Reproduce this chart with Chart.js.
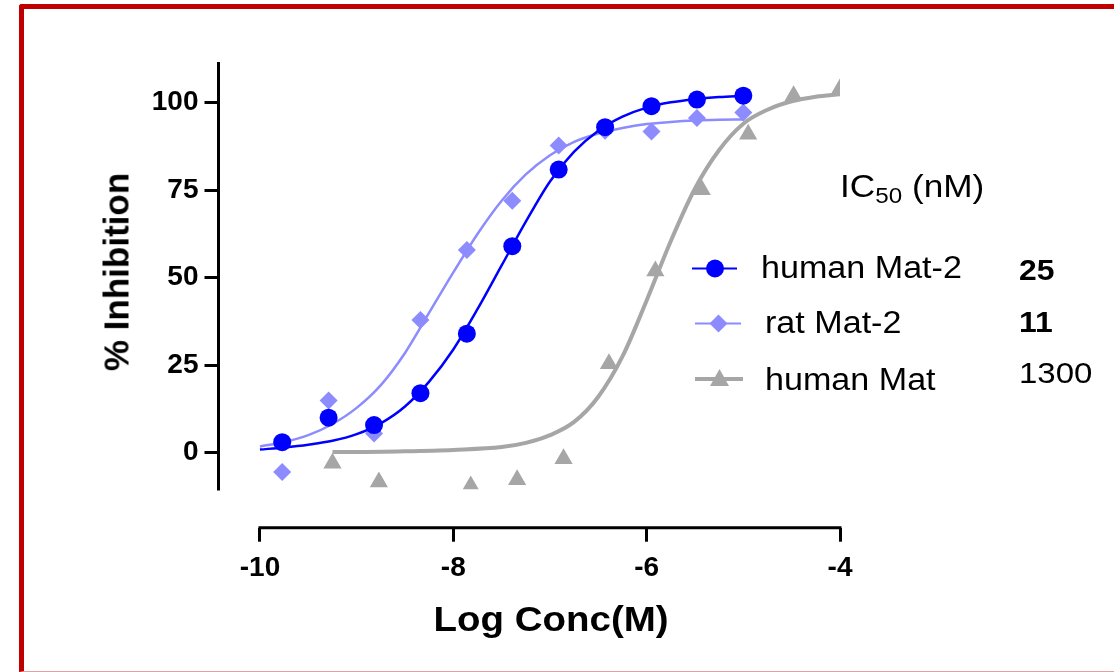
<!DOCTYPE html>
<html>
<head>
<meta charset="utf-8">
<script src="https://cdn.jsdelivr.net/npm/chart.js@4.4.1/dist/chart.umd.min.js"></script>
<style>
	html, body { margin: 0; padding: 0; background: #fff; }
	#wrap { position: relative; width: 1114px; height: 672px; overflow: hidden; background: #fff; }
	#mycanvas { position: absolute; left: 0; top: 0; }
	.frame { position: absolute; left: 19px; top: 4px; width: 1200px; height: 662px;
		border-left: 5px solid #c00000; border-top: 5px solid #c00000; border-bottom: 1px solid #e2a2a2;
		border-top-left-radius: 3px; pointer-events: none; }
	.txt { position: absolute; font-family: "Liberation Sans", Arial, sans-serif; color: #000;
		line-height: 1; white-space: nowrap; }
	.lg { font-size: 31px; transform: scaleX(1.1); transform-origin: left center; }
	.ic { transform: scaleX(1.1); transform-origin: left center; }
	.ic sub { font-size: 22px; vertical-align: -6px; line-height: 0; }
	#ytitle { left: 116px; top: 272px; font-size: 35px; font-weight: bold;
		transform: translate(-50%, -50%) rotate(-90deg); }
	#xtitle { left: 551px; top: 618px; font-size: 35px; font-weight: bold;
		transform: translate(-50%, -50%) scaleX(1.1); }
	svg { position: absolute; left: 0; top: 0; }
</style>
</head>
<body>
<div id="wrap">
	<canvas id="mycanvas" width="1114" height="672"></canvas>

	<div class="txt" id="ytitle">% Inhibition</div>
	<div class="txt" id="xtitle">Log Conc(M)</div>

	<svg width="1114" height="672">
		<line x1="692" y1="268.5" x2="737" y2="268.5" stroke="#0000ff" stroke-width="2"/>
		<circle cx="715" cy="268.5" r="9" fill="#0000ff"/>
		<line x1="695" y1="323.5" x2="741" y2="323.5" stroke="#8c8cff" stroke-width="2"/>
		<polygon points="718.5,314.5 727.5,323.5 718.5,332.5 709.5,323.5" fill="#8c8cff"/>
		<line x1="695" y1="379" x2="743" y2="379" stroke="#a6a6a6" stroke-width="4"/>
		<polygon points="719.5,369 729,386 710,386" fill="#a6a6a6"/>
	</svg>

	<div class="txt ic" style="left:840px; top:170px; font-size:32px;">IC<sub>50</sub> (nM)</div>
	<div class="txt lg" style="left:761px; top:252px;">human Mat-2</div>
	<div class="txt lg" style="left:765px; top:307px;">rat Mat-2</div>
	<div class="txt lg" style="left:765px; top:364px;">human Mat</div>
	<div class="txt ic" style="left:1019px; top:256px; font-size:29px; font-weight:bold;">25</div>
	<div class="txt ic" style="left:1019px; top:308px; font-size:29px; font-weight:bold;">11</div>
	<div class="txt ic" style="left:1019px; top:358px; font-size:30px;">1300</div>

	<div class="frame"></div>
</div>

<script>
// axis ticks
var xTicks = [-10, -8, -6, -4];
var yTicks = [0, 25, 50, 75, 100];
var yAxisBottom = -10.8;

// measured points, log concentration (M)
var concMat2 = [-9.77, -9.29, -8.82, -8.34, -7.86, -7.39, -6.91, -6.43, -5.95, -5.48, -5.00];
var humanMat2 = [3.0, 10.0, 7.9, 17.0, 34.0, 59.0, 80.9, 93.0, 99.0, 100.9, 102.0];
var ratMat2 = [-5.5, 14.9, 5.5, 37.9, 57.9, 72.0, 87.8, 92.0, 91.8, 95.6, 97.2];

var concMat = [-9.25, -8.77, -7.82, -7.34, -6.86, -6.39, -5.91, -5.43, -4.95, -4.48, -4.00];
var humanMat = [-3.0, -8.4, -9.5, -7.7, -1.7, 25.4, 51.9, 75.1, 91.0, 102.0, 104.0];

// fitted curves
var fitConcMat2 = [-10, -9.75, -9.5, -9.25, -9, -8.75, -8.5, -8.25, -8, -7.75, -7.5,
	-7.25, -7, -6.75, -6.5, -6.25, -6, -5.75, -5.5, -5.25, -5];
var fitHumanMat2 = [0.9, 1.5, 2.3, 3.4, 5.3, 8.4, 13.2, 20.3, 29.5, 41.0, 53.5,
	66.0, 77.5, 86.0, 92.0, 96.0, 98.6, 100.1, 101.0, 101.6, 102.0];
var fitRatMat2 = [1.8, 3.0, 5.0, 8.2, 12.8, 19.3, 28.5, 40.0, 51.5, 62.5, 72.0,
	79.5, 85.0, 88.8, 91.2, 92.8, 93.9, 94.5, 94.9, 95.1, 95.2];

var fitConcMat = [-9.25, -9, -8.5, -8, -7.5, -7.25, -7, -6.75, -6.5, -6.25, -6,
	-5.75, -5.5, -5.25, -5, -4.75, -4.5, -4.25, -4];
var fitHumanMat = [0.2, 0.2, 0.4, 0.8, 1.6, 2.8, 5.0, 8.8, 16.0, 27.5, 43.5,
	60.5, 75.5, 86.5, 94.0, 98.0, 100.4, 101.7, 102.4];

var blue = '#0000ff';
var lightBlue = '#8c8cff';
var grey = '#a6a6a6';

function pairs(xs, ys) {
	var out = [];
	for (var i in xs) {
		out.push({x: xs[i], y: ys[i]});
	}
	return out;
}

var plotClip = {left: 30, top: 30, right: 0, bottom: -38.5};

function points(xs, ys, color, style, radius) {
	return {
		data: pairs(xs, ys),
		showLine: false,
		pointStyle: style,
		pointRadius: radius,
		pointBackgroundColor: color,
		pointBorderWidth: 0,
		clip: plotClip
	};
}

function curve(xs, ys, color, width) {
	return {
		data: pairs(xs, ys),
		showLine: true,
		borderColor: color,
		borderWidth: width,
		pointRadius: 0,
		cubicInterpolationMode: 'monotone',
		clip: plotClip
	};
}

// drawing order: first dataset ends up on top
var datasets = [
	points(concMat2, humanMat2, blue, 'circle', 9),
	curve(fitConcMat2, fitHumanMat2, blue, 2.5),
	points(concMat2, ratMat2, lightBlue, 'rectRot', 9),
	curve(fitConcMat2, fitRatMat2, lightBlue, 2.5),
	points(concMat, humanMat, grey, 'triangle', 10.5),
	curve(fitConcMat, fitHumanMat, grey, 4)
];

var axisLines = {
	id: 'axisLines',
	beforeDatasetsDraw: function(chart) {
		var c = chart.ctx;
		var xs = chart.scales.x;
		var ys = chart.scales.y;
		c.save();
		c.strokeStyle = '#000';
		c.lineWidth = 3;
		c.beginPath();
		c.moveTo(xs.left, ys.top);
		c.lineTo(xs.left, ys.getPixelForValue(yAxisBottom));
		c.moveTo(xs.getPixelForValue(xTicks[0]) - 1.5, ys.bottom);
		c.lineTo(xs.getPixelForValue(xTicks[xTicks.length - 1]) + 1.5, ys.bottom);
		c.stroke();
		c.restore();
	}
};

var tickFont = {family: '"Liberation Sans", Arial, sans-serif', weight: 'bold', size: 28};

var ctx = document.getElementById('mycanvas');
var chart = new Chart(ctx, {
	type: 'scatter',
	data: {datasets: datasets},
	options: {
		responsive: false,
		animation: false,
		events: [],
		layout: {padding: {left: 0, top: 62, right: 274, bottom: 0}},
		plugins: {legend: {display: false}, tooltip: {enabled: false}},
		scales: {
			x: {
				type: 'linear',
				min: -10.429,
				max: -4,
				afterFit: function(s) { s.height = 672 - 527.7; },
				afterBuildTicks: function(s) {
					s.ticks = xTicks.map(function(v) { return {value: v}; });
				},
				border: {display: false},
				grid: {drawOnChartArea: false, drawTicks: true, tickLength: 14, lineWidth: 3, color: '#000'},
				ticks: {font: tickFont, color: '#000', padding: 10, maxRotation: 0, autoSkip: false}
			},
			y: {
				type: 'linear',
				min: -21.43,
				max: 111.63,
				afterFit: function(s) { s.width = 218.5; },
				afterBuildTicks: function(s) {
					s.ticks = yTicks.map(function(v) { return {value: v}; });
				},
				border: {display: false},
				grid: {drawOnChartArea: false, drawTicks: true, tickLength: 14, lineWidth: 3, color: '#000'},
				ticks: {font: tickFont, color: '#000', padding: 6, autoSkip: false}
			}
		}
	},
	plugins: [axisLines]
});
</script>
</body>
</html>
